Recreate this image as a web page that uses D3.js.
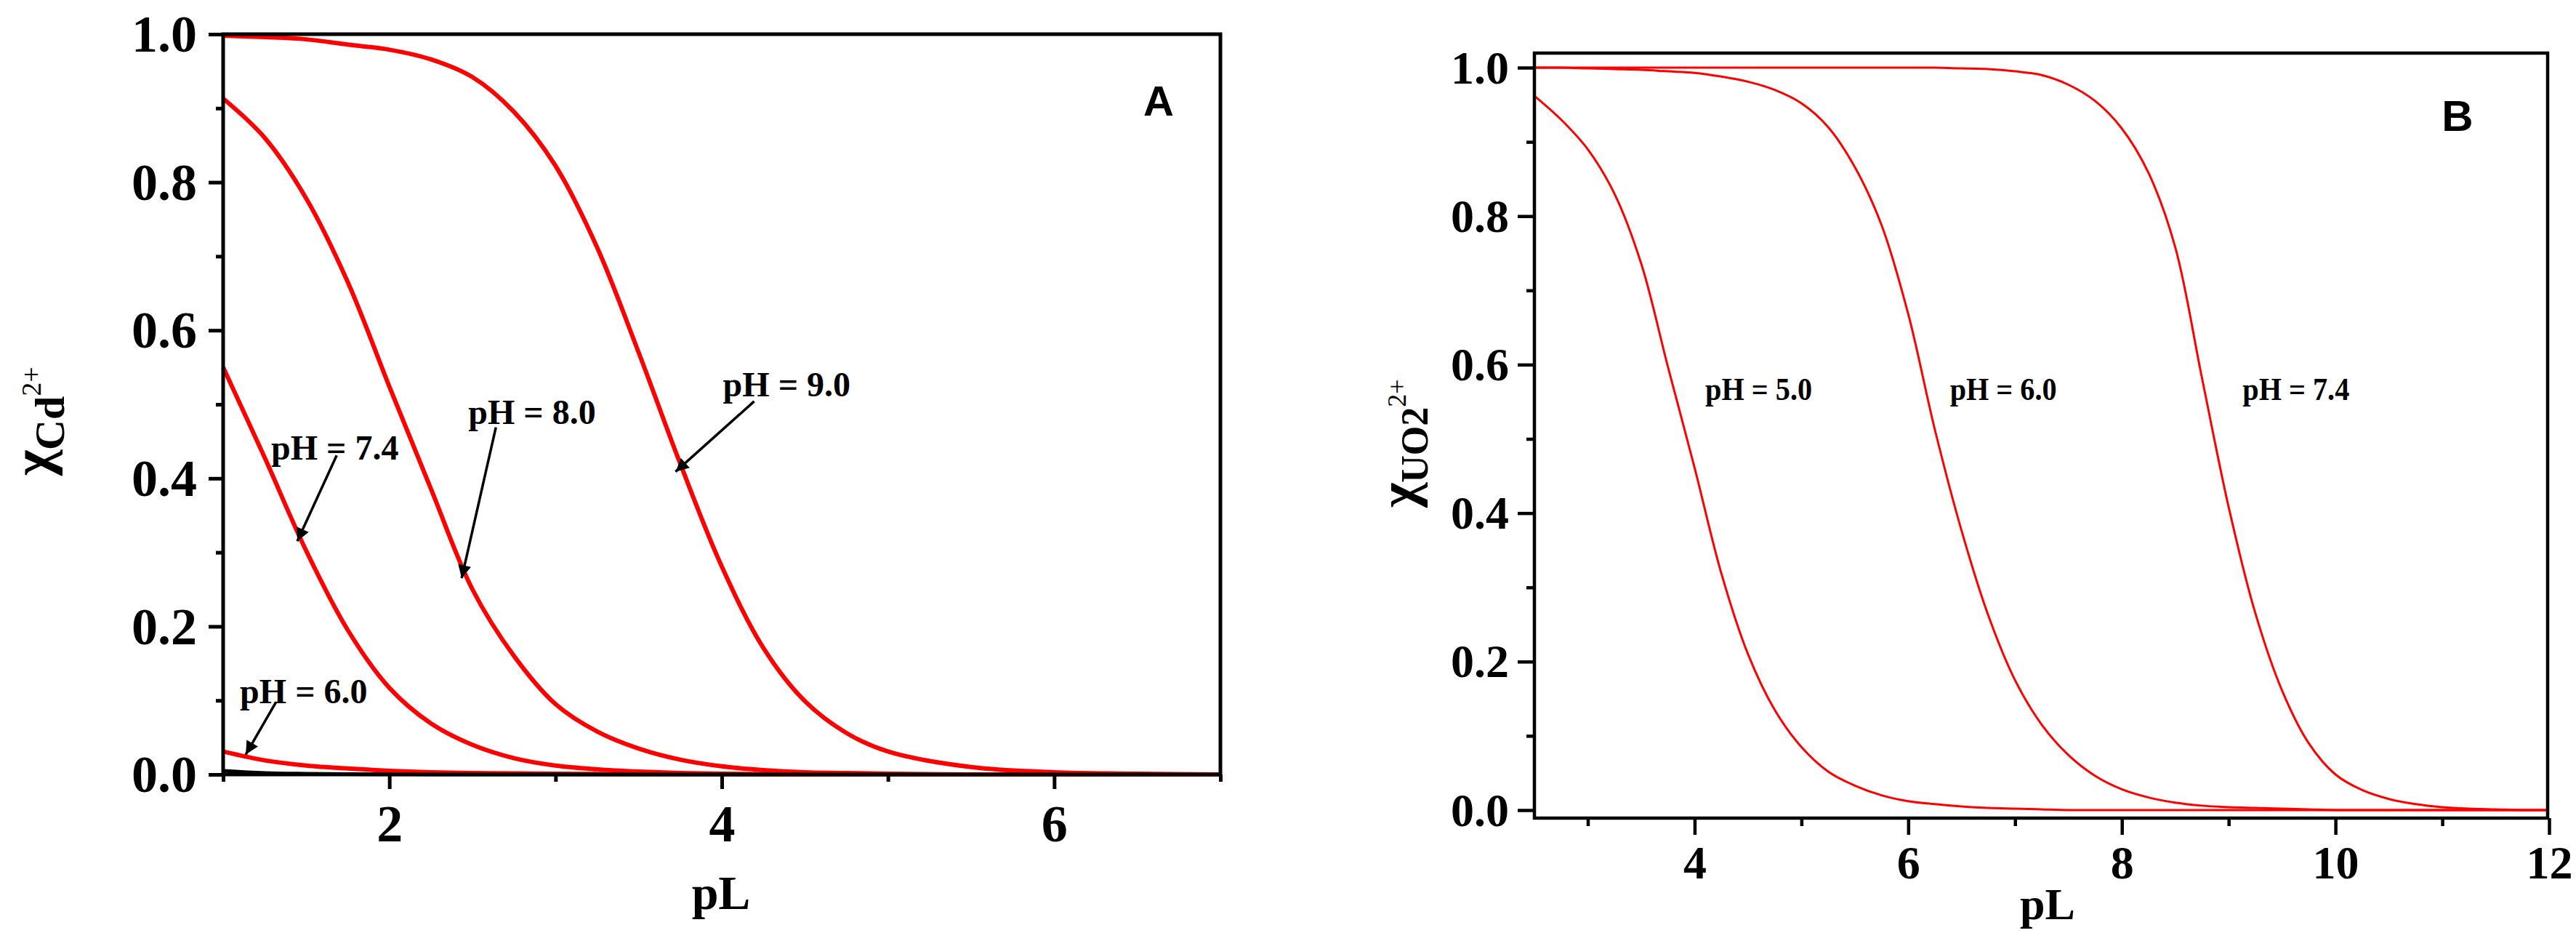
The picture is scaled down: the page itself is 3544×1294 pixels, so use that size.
<!DOCTYPE html>
<html>
<head>
<meta charset="utf-8">
<script src="https://cdn.jsdelivr.net/npm/d3@7"></script>
<style>
  body { margin: 0; background: #fff; }
  svg { display: block; }
</style>
</head>
<body>
<svg id="chart" width="3544" height="1294"></svg>
<script>
// ---- panel A : Cd2+ fraction vs pL ----
const pLA = [1, 1.25, 1.5, 1.75, 2, 2.25, 2.5, 2.75, 3, 3.25, 3.5, 3.75, 4, 4.25, 4.5, 4.75, 5, 5.5, 6, 6.5, 7];
const cdPH90 = [0.998, 0.996, 0.993, 0.986, 0.979, 0.966, 0.942, 0.895, 0.822, 0.712, 0.57, 0.42, 0.281, 0.171, 0.099, 0.056, 0.031, 0.01, 0.003, 0.001, 0];
const cdPH80 = [0.913, 0.86, 0.778, 0.665, 0.524, 0.386, 0.25, 0.16, 0.095, 0.058, 0.035, 0.02, 0.011, 0.006, 0.003, 0.002, 0.001, 0, 0, 0, 0];
const cdPH74 = [0.55, 0.428, 0.302, 0.195, 0.117, 0.069, 0.04, 0.022, 0.012, 0.007, 0.004, 0.002, 0.001, 0.0005, 0, 0, 0, 0, 0, 0, 0];
const cdPH60 = [0.031, 0.019, 0.012, 0.008, 0.005, 0.003, 0.002, 0.0015, 0.001, 0.0007, 0.0005, 0.0003, 0.0002, 0.0001, 0, 0, 0, 0, 0, 0, 0];
const cdBlack = [0.005, 0.002, 0.001, 0.0005, 0.0002, 0.0001, 0, 0, 0, 0, 0, 0, 0, 0, 0, 0, 0, 0, 0, 0, 0];

// ---- panel B : UO2 2+ fraction vs pL ----
const pLB = [2.5, 2.75, 3, 3.25, 3.5, 3.75, 4, 4.25, 4.5, 4.75, 5, 5.25, 5.5, 5.75, 6, 6.25, 6.5, 6.75, 7, 7.25,
             7.5, 7.75, 8, 8.25, 8.5, 8.75, 9, 9.25, 9.5, 9.75, 10, 10.25, 10.5, 10.75, 11, 11.25, 11.5, 11.75, 12];
const uoPH50 = [0.962, 0.93, 0.89, 0.83, 0.736, 0.597, 0.461, 0.319, 0.21, 0.135, 0.085, 0.052, 0.033, 0.02, 0.012, 0.008, 0.005, 0.003, 0.002, 0.001,
                0, 0, 0, 0, 0, 0, 0, 0, 0, 0, 0, 0, 0, 0, 0, 0, 0, 0, 0];
const uoPH60 = [1, 1, 0.999, 0.998, 0.997, 0.995, 0.993, 0.988, 0.981, 0.97, 0.952, 0.92, 0.866, 0.788, 0.668, 0.512, 0.376, 0.262, 0.175, 0.115,
                0.074, 0.046, 0.028, 0.017, 0.01, 0.006, 0.004, 0.003, 0.002, 0.001, 0, 0, 0, 0, 0, 0, 0, 0, 0];
const uoPH74 = [1, 1, 1, 1, 1, 1, 1, 1, 1, 1, 1, 1, 1, 1, 1, 1, 0.999, 0.998, 0.995, 0.99,
                0.977, 0.955, 0.918, 0.858, 0.758, 0.582, 0.408, 0.265, 0.161, 0.09, 0.048, 0.027, 0.015, 0.008, 0.004, 0.002, 0.001, 0, 0];

// tick values
const xMajorA = [2, 4, 6], xMinorA = [1, 3, 5, 7];
const xMajorB = [4, 6, 8, 10, 12], xMinorB = [3, 5, 7, 9, 11];
const yMajor = [0, 0.2, 0.4, 0.6, 0.8, 1.0], yMinor = [0.1, 0.3, 0.5, 0.7, 0.9];

// annotation labels (data units): text anchor point, arrow start, arrow tip
const notesA = [
  { label: "pH = 9.0", tx: 4.007, ty: 0.511, ax: 4.195, ay: 0.504, bx: 3.722, by: 0.409 },
  { label: "pH = 8.0", tx: 2.475, ty: 0.473, ax: 2.641, ay: 0.469, bx: 2.435, by: 0.265 },
  { label: "pH = 7.4", tx: 1.289, ty: 0.425, ax: 1.683, ay: 0.431, bx: 1.446, by: 0.315 },
  { label: "pH = 6.0", tx: 1.101, ty: 0.096, ax: 1.319, ay: 0.098, bx: 1.136, by: 0.027 }
];
const notesB = [
  { label: "pH = 5.0", tx: 4.1, ty: 0.552 },
  { label: "pH = 6.0", tx: 6.39, ty: 0.552 },
  { label: "pH = 7.4", tx: 9.13, ty: 0.552 }
];

const serif = '"Liberation Serif", "Times New Roman", serif';
const sans = '"Liberation Sans", Arial, sans-serif';

const svg = d3.select("#chart");
svg.append("rect").attr("width", 3544).attr("height", 1294).attr("fill", "#fff");

svg.append("defs").append("marker")
    .attr("id", "arrow")
    .attr("viewBox", "0 0 10 10")
    .attr("refX", 10).attr("refY", 5)
    .attr("markerUnits", "userSpaceOnUse")
    .attr("markerWidth", 28).attr("markerHeight", 18)
    .attr("orient", "auto")
  .append("path")
    .attr("d", "M0,0 L10,5 L0,10 z")
    .attr("fill", "#000");

function drawPanel(p) {
  var x = d3.scaleLinear().domain(p.xDomain).range([p.left, p.xEnd]);
  var y = d3.scaleLinear().domain([0, 1]).range([p.y0, p.y1]);
  var g = svg.append("g");

  // curves
  var line = d3.line()
      .x(function(d) { return x(d[0]); })
      .y(function(d) { return y(d[1]); })
      .curve(d3.curveCatmullRom.alpha(0.5));
  p.series.forEach(function(s) {
    g.append("path")
      .datum(p.pL.map(function(v, i) { return [v, s.values[i]]; }))
      .attr("fill", "none")
      .attr("stroke", s.color)
      .attr("stroke-width", s.width)
      .attr("stroke-linejoin", "round")
      .attr("d", line);
  });

  // frame
  g.append("rect")
    .attr("x", p.left).attr("y", p.top)
    .attr("width", p.right - p.left).attr("height", p.bottom - p.top)
    .attr("fill", "none").attr("stroke", "#000").attr("stroke-width", p.frameW);

  // x axis
  var xMaj = g.append("g").attr("transform", "translate(0," + p.bottom + ")")
    .call(d3.axisBottom(x).tickValues(p.xMajor).tickSize(p.majLen).tickFormat(d3.format("d")));
  var xMin = g.append("g").attr("transform", "translate(0," + p.bottom + ")")
    .call(d3.axisBottom(x).tickValues(p.xMinor).tickSize(p.minLen).tickFormat(""));
  // y axis
  var yMaj = g.append("g").attr("transform", "translate(" + p.left + ",0)")
    .call(d3.axisLeft(y).tickValues(yMajor).tickSize(p.majLen).tickFormat(d3.format(".1f")));
  var yMin = g.append("g").attr("transform", "translate(" + p.left + ",0)")
    .call(d3.axisLeft(y).tickValues(yMinor).tickSize(p.minLen).tickFormat(""));

  [xMaj, xMin, yMaj, yMin].forEach(function(a) {
    a.select(".domain").remove();
    a.selectAll(".tick line").attr("stroke", "#000").attr("stroke-width", p.tickW);
  });
  xMaj.selectAll(".tick text")
    .attr("y", p.xLabelOff).attr("dy", 0)
    .attr("font-family", serif).attr("font-weight", "bold").attr("font-size", p.tickFont).attr("fill", "#000");
  yMaj.selectAll(".tick text")
    .attr("x", -p.yLabelOff).attr("dy", "0.33em")
    .attr("font-family", serif).attr("font-weight", "bold").attr("font-size", p.tickFont).attr("fill", "#000");

  // axis titles
  g.append("text")
    .attr("x", p.xTitle[0]).attr("y", p.xTitle[1])
    .attr("text-anchor", "middle")
    .attr("font-family", serif).attr("font-weight", "bold").attr("font-size", p.xTitleFont)
    .text("pL");

  var yt = g.append("text")
    .attr("transform", "translate(" + p.yTitle[0] + "," + p.yTitle[1] + ") rotate(-90)")
    .attr("font-family", serif).attr("font-weight", "bold");
  yt.append("tspan").attr("font-size", p.chiFont).text("χ");
  yt.append("tspan").attr("font-size", p.subFont).attr("dy", p.subDy).text(p.subText);
  yt.append("tspan").attr("font-size", p.supFont).attr("font-weight", "normal").attr("dy", p.supDy).text("2+");

  // panel letter
  g.append("text")
    .attr("x", p.letter[0]).attr("y", p.letter[1])
    .attr("text-anchor", "middle")
    .attr("font-family", sans).attr("font-weight", "bold").attr("font-size", p.letterFont)
    .text(p.letterText);

  // annotations
  p.notes.forEach(function(n) {
    var t = g.append("text")
      .attr("x", x(n.tx)).attr("y", y(n.ty))
      .attr("font-family", serif).attr("font-weight", "bold").attr("font-size", p.noteFont)
      .text(n.label);
    if (p.noteLen) t.attr("textLength", p.noteLen).attr("lengthAdjust", "spacingAndGlyphs");
    if (n.ax !== undefined) {
      g.append("line")
        .attr("x1", x(n.ax)).attr("y1", y(n.ay))
        .attr("x2", x(n.bx)).attr("y2", y(n.by))
        .attr("stroke", "#000").attr("stroke-width", 3.5)
        .attr("marker-end", "url(#arrow)");
    }
  });
}

drawPanel({
  xDomain: [1, 7], left: 307, xEnd: 1679, right: 1679, top: 47, bottom: 1065,
  y0: 1065, y1: 47,
  pL: pLA,
  series: [
    { values: cdBlack, color: "#000", width: 5 },
    { values: cdPH60, color: "#ff0000", width: 6 },
    { values: cdPH74, color: "#ff0000", width: 6 },
    { values: cdPH80, color: "#ff0000", width: 6 },
    { values: cdPH90, color: "#ff0000", width: 6 }
  ],
  frameW: 5, tickW: 5, majLen: 20, minLen: 10,
  xMajor: xMajorA, xMinor: xMinorA,
  tickFont: 72, xLabelOff: 92, yLabelOff: 36,
  xTitle: [992, 1250], xTitleFont: 66,
  yTitle: [70, 654], chiFont: 76, subFont: 58, subDy: 18, supFont: 38, supDy: -32, subText: "Cd",
  letter: [1594, 159], letterFont: 58, letterText: "A",
  notes: notesA, noteFont: 48
});

drawPanel({
  xDomain: [2.5, 12], left: 2111, xEnd: 3507, right: 3505, top: 73, bottom: 1125,
  y0: 1114, y1: 93,
  pL: pLB,
  series: [
    { values: uoPH50, color: "#ff0000", width: 3 },
    { values: uoPH60, color: "#ff0000", width: 3 },
    { values: uoPH74, color: "#ff0000", width: 3 }
  ],
  frameW: 4.5, tickW: 4.5, majLen: 23, minLen: 11,
  xMajor: xMajorB, xMinor: xMinorB,
  tickFont: 64, xLabelOff: 83, yLabelOff: 35,
  xTitle: [2817, 1264], xTitleFont: 62,
  yTitle: [1948, 698], chiFont: 74, subFont: 52, subDy: 16, supFont: 36, supDy: -30, subText: "UO2",
  letter: [3381, 180], letterFont: 60, letterText: "B",
  notes: notesB, noteFont: 45, noteLen: 147
});
</script>
</body>
</html>
